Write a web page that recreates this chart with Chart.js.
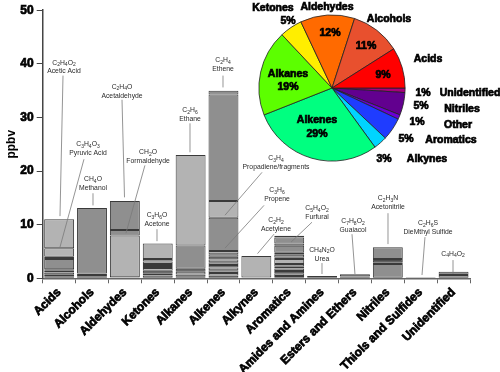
<!DOCTYPE html>
<html><head><meta charset="utf-8">
<script src="https://cdn.jsdelivr.net/npm/chart.js@4.4.1/dist/chart.umd.min.js"></script>
<style>
html,body{margin:0;padding:0;background:#fff;}
#wrap{position:relative;width:500px;height:372px;overflow:hidden;}
#bar{position:absolute;left:0;top:0;}
#pie{position:absolute;left:250px;top:0;}
</style></head><body>
<div id="wrap"><canvas id="bar" width="500" height="372"></canvas><canvas id="pie" width="250" height="180"></canvas></div>
<script>
const FONT = '"Liberation Sans", Arial, sans-serif';
const categories = ["Acids","Alcohols","Aldehydes","Ketones","Alkanes","Alkenes","Alkynes","Aromatics","Amides and Amines","Esters and Ethers","Nitriles","Thiols and Sulfides","Unidentified"];
const yTicks = [0,10,20,30,40,50];

// stacked segments per category (ppbv, bottom to top)
const acids      = [0.3,0.35,0.45,0.3,0.27,1.93,0.2,0.2,1.6,5.4];
const alcohols   = [0.3,0.3,0.3,12.2];
const aldehydes  = [0.2,7.8,1.0,5.4];
const ketones    = [0.1,0.4,0.36,0.54,0.5,0.4,0.35,0.5,0.45,2.9];
const alkanes    = [0.3,0.4,0.5,0.6,4.3,16.9];
const alkenes    = [0.5,0.5,0.5,0.5,0.5,0.5,0.5,0.5,0.5,0.6,6.2,3.1,19.9,0.7];
const alkynes    = [0.15,4.0];
const aromatics  = [0.43,0.5,0.42,0.5,0.31,0.5,0.94,0.24,0.56,0.36,1.3,0.44,1.1,0.33];
const amides     = [0.45];
const esters     = [0.35,0.4];
const nitriles   = [2.66,0.31,0.63,2.2];
const thiols     = [0.2];
const unidentified = [0.6,0.6];
const stacks = [acids,alcohols,aldehydes,ketones,alkanes,alkenes,alkynes,aromatics,amides,esters,nitriles,thiols,unidentified];

// segment shades (style), L light / M medium / D dark
const shades = ["MLMDLMDDLL","MDLM","DLMM","DLMDLDMLML","DMLDML","DLMLDMLDMLMLMM","DL","DMDMLMLDMDMLML","D","DM","MMDM","D","MM"];
const shadeColor = {L:'#b3b3b3', M:'#8f8f8f', D:'#4d4d4d'};

// annotations: formula, compound name, label centre (category units, ppbv), leader line start & end
const annFormula = ["C2H4O2","C3H4O3","CH4O","C2H4O","CH2O","C3H6O","C2H6","C2H4","C3H4","C3H6","C2H2","C5H4O2","CH4N2O","C7H8O2","C2H3N","C2H6S","C4H4O2"];
const annName = ["Acetic Acid","Pyruvic Acid","Methanol","Acetaldehyde","Formaldehyde","Acetone","Ethane","Ethene","Propadiene/fragments","Propene","Acetylene","Furfural","Urea","Guaiacol","Acetonitrile","DieMthyl Sulfide",""];
const annX  = [0.148,0.878,1.03,1.913,2.704,2.977,3.981,4.985,6.598,6.628,6.598,7.845,7.997,8.94,10.005,11.222,11.983];
const annY  = [40.2,24.96,18.46,35.7,23.5,11.77,31.3,40.6,22.36,16.4,10.84,13.07,5.26,10.65,14.93,10.28,4.52];
const annSX = [0.118,0.756,1.03,1.913,2.61,2.977,3.981,4.985,6.172,6.233,6.537,7.693,7.997,8.91,10.005,11.13,11.983];
const annSY = [37.8,22.2,15.86,33.3,21.06,9.16,28.9,37.8,19.76,13.6,8.23,10.46,2.84,8.23,12.14,7.68,3.4];
const annEX = [0.026,0.026,1.03,1.989,2.034,2.977,3.981,4.985,5.046,5.046,6.035,7.054,7.997,9.0,10.005,11.04,11.983];
const annEY = [11.6,5.82,13.6,15.1,8.42,6.93,23.5,35.6,11.77,5.63,4.6,6.74,0.8,0.8,6.38,0.61,0.8];

// pie
const pieLabels  = ["Acids","Alcohols","Aldehydes","Ketones","Alkanes","Alkenes","Alkynes","Aromatics","Other","Nitriles","Unidentified"];
const piePercent = [9,11,12,5,19,29,3,5,1,5,1];
const pieColors  = ['#ff0000','#e8502e','#ff6a00','#ffee00','#5cff00','#00ff80','#00d4ff','#1f3cff','#6a00d6','#62008f','#a8007c'];
// label placement (page px): name & percent
const pieNameX = [428,389,327,273,288,317,427,451,458,462,470];
const pieNameY = [59,19,7,8,74,120,159,140,125,109,93];
const piePctX  = [383,366,330,288,288,317,384,406,417,421,423];
const piePctY  = [75,46,33,21,87,134,159,139,122,106,93];

const maxSeg = Math.max(...stacks.map(s => s.length));
const datasets = [];
for (let k = 0; k < maxSeg; k++) {
  datasets.push({
    data: stacks.map(s => (k < s.length ? s[k] : null)),
    backgroundColor: shades.map(sh => (k < sh.length ? shadeColor[sh[k]] : 'rgba(0,0,0,0)')),
    borderColor: '#3a3a3a',
    borderWidth: 1,
    borderSkipped: false,
    categoryPercentage: 1,
    barPercentage: 0.91
  });
}

function drawFormula(ctx, str, cx, cy) {
  const parts = str.match(/[A-Za-z]+|\d+/g);
  const big = '6.8px ' + FONT, small = '5px ' + FONT;
  let total = 0;
  const w = parts.map(p => { ctx.font = /\d/.test(p) ? small : big; const m = ctx.measureText(p).width; total += m; return m; });
  let x = cx - total / 2;
  ctx.textAlign = 'left';
  parts.forEach((p, i) => {
    const sub = /\d/.test(p);
    ctx.font = sub ? small : big;
    ctx.fillText(p, x, cy + (sub ? 2 : 0));
    x += w[i];
  });
}

const annotationPlugin = {
  id: 'ann',
  afterDatasetsDraw(chart) {
    const {ctx, scales: {x, y}} = chart;
    ctx.save();
    ctx.strokeStyle = '#7a7a7a';
    ctx.lineWidth = 0.8;
    for (let i = 0; i < annFormula.length; i++) {
      ctx.beginPath();
      ctx.moveTo(x.getPixelForValue(annSX[i]), y.getPixelForValue(annSY[i]));
      ctx.lineTo(x.getPixelForValue(annEX[i]), y.getPixelForValue(annEY[i]));
      ctx.stroke();
    }
    ctx.fillStyle = '#2a2a2a';
    ctx.textBaseline = 'middle';
    for (let i = 0; i < annFormula.length; i++) {
      const cx = x.getPixelForValue(annX[i]), cy = y.getPixelForValue(annY[i]);
      drawFormula(ctx, annFormula[i], cx, cy);
      if (annName[i]) {
        ctx.font = '6.8px ' + FONT;
        ctx.textAlign = 'center';
        ctx.fillText(annName[i], cx, cy + 8.8);
      }
    }
    ctx.restore();
  }
};

new Chart(document.getElementById('bar'), {
  type: 'bar',
  data: { labels: categories, datasets },
  options: {
    responsive: false,
    animation: false,
    layout: { padding: { top: 9, right: 30, left: 0, bottom: 0 } },
    plugins: { legend: { display: false }, tooltip: { enabled: false } },
    scales: {
      x: {
        stacked: true,
        afterFit(s) { s.height = 93.7; },
        grid: { offset: true, drawOnChartArea: false, drawTicks: true, tickLength: 5, color: '#666', lineWidth: 1 },
        border: { color: '#666', width: 1.5 },
        ticks: { autoSkip: false, maxRotation: 45, minRotation: 45, padding: 2,
          color: '#000', font: { family: FONT, size: 12, weight: 'bold' },
          textStrokeColor: '#000', textStrokeWidth: 0.7 }
      },
      y: {
        stacked: true,
        min: 0, max: 50,
        afterFit(s) { s.width = 42.7; },
        afterBuildTicks(s) { s.ticks = yTicks.map(v => ({ value: v })); },
        grid: { drawOnChartArea: false, drawTicks: true, tickLength: 6, color: '#444', lineWidth: 1 },
        border: { color: '#444', width: 1.5 },
        ticks: { padding: 3, color: '#000', font: { family: FONT, size: 12, weight: 'bold' },
          textStrokeColor: '#000', textStrokeWidth: 0.7 },
        title: { display: true, text: 'ppbv', color: '#000', padding: { top: 4, bottom: 0 },
          font: { family: FONT, size: 12, weight: 'bold' } }
      }
    }
  },
  plugins: [annotationPlugin]
});

// pie (drawn counter-clockwise from 3 o'clock in the reference -> reverse order, clockwise)
const rev = a => a.slice().reverse();
const pieLabelPlugin = {
  id: 'pielabels',
  afterDraw(chart) {
    const ctx = chart.ctx;
    const ox = 250, oy = 0;
    ctx.save();
    ctx.fillStyle = '#000';
    ctx.strokeStyle = '#000';
    ctx.lineWidth = 0.7;
    ctx.textAlign = 'center';
    ctx.textBaseline = 'middle';
    ctx.font = 'bold 10.5px ' + FONT;
    for (let i = 0; i < pieLabels.length; i++) {
      const pct = piePercent[i] + '%';
      ctx.fillText(pieLabels[i], pieNameX[i] - ox, pieNameY[i] - oy);
      ctx.strokeText(pieLabels[i], pieNameX[i] - ox, pieNameY[i] - oy);
      ctx.fillText(pct, piePctX[i] - ox, piePctY[i] - oy);
      ctx.strokeText(pct, piePctX[i] - ox, piePctY[i] - oy);
    }
    ctx.restore();
  }
};
new Chart(document.getElementById('pie'), {
  type: 'pie',
  data: { labels: rev(pieLabels), datasets: [{ data: rev(piePercent), backgroundColor: rev(pieColors), borderColor: '#222', borderWidth: 0.8 }] },
  options: {
    responsive: false,
    animation: false,
    rotation: 90,
    layout: { padding: { left: 8.5, top: 14.5, right: 94.5, bottom: 18.5 } },
    plugins: { legend: { display: false }, tooltip: { enabled: false } }
  },
  plugins: [pieLabelPlugin]
});
</script>
</body></html>
